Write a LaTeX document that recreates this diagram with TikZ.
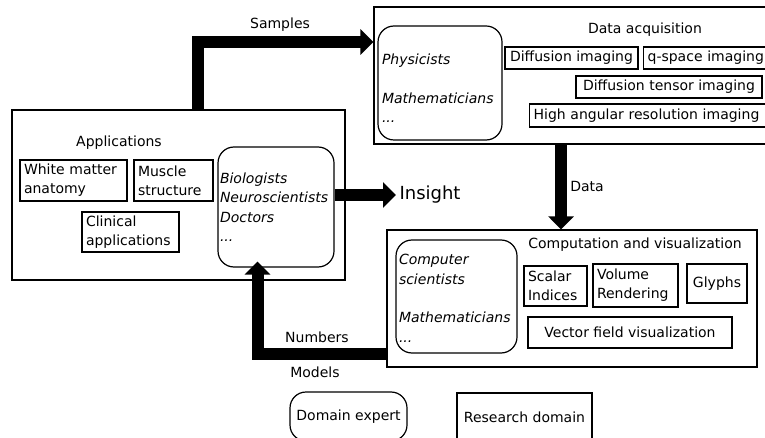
\documentclass[tikz,border=0pt]{standalone}
\usepackage{fontspec}
\setmainfont{DejaVu Sans}
\usetikzlibrary{arrows.meta}

\begin{document}
\begin{tikzpicture}[x=1pt,y=-1pt,
    every node/.style={font=\fontsize{14}{19}\selectfont},
    group/.style={draw,line width=1.3pt,inner sep=0pt},
    tagbox/.style={draw,line width=1.2pt,inner xsep=4pt,inner ysep=0pt,align=left},
    crowd/.style={draw,line width=1.2pt,rounded corners=16pt,inner sep=0pt,
      align=left,font=\fontsize{14}{19.5}\selectfont\itshape},
    flow/.style={line width=12pt,-{Triangle[length=13pt,width=25pt]}}]
    \useasboundingbox (0,0) rectangle (765,438);
    \clip (0,0) rectangle (765,438);
    % data acquisition
    \node[group,minimum width=416pt,minimum height=137pt] (acq) at (582,75.5) {};
    \node (acqtitle) at (645,30) {Data acquisition};
    \node[crowd,minimum width=124pt,minimum height=114pt,text width=116pt] (phys) at (440,83)
      {\rule{0pt}{22pt}Physicists\\[19pt]Mathematicians\\...};
    \node[tagbox,minimum width=133pt,minimum height=22pt] (dwi) at (571.5,58) {Diffusion imaging};
    \node[tagbox,anchor=west,text width=140pt,minimum height=22pt] (qspace) at (643,58) {q-space imaging};
    \node[tagbox,minimum width=186pt,minimum height=22pt] (dti) at (669,87) {Diffusion tensor imaging};
    \node[tagbox,anchor=west,text width=240pt,minimum height=23pt] (hardi) at (529,115.5)
      {High angular resolution imaging};
    % applications
    \node[group,minimum width=333pt,minimum height=170pt] (apps) at (178.5,195) {};
    \node (appstitle) at (119,143) {Applications};
    \node[tagbox,minimum width=107pt,minimum height=41pt,text width=99pt] (wm) at (73.5,180.5)
      {White matter\\anatomy};
    \node[tagbox,minimum width=79pt,minimum height=41pt,text width=71pt] (muscle) at (173.5,180.5)
      {Muscle\\structure};
    \node[tagbox,minimum width=97pt,minimum height=40pt,text width=89pt] (clinic) at (130.5,232)
      {Clinical\\applications};
    \node[crowd,minimum width=116pt,minimum height=120pt,text width=112pt] (bio) at (276,207)
      {Biologists\\Neuroscientists\\Doctors\\...};
    % computation
    \node[group,minimum width=370pt,minimum height=137pt] (comp) at (572,298.5) {};
    \node (comptitle) at (635,245) {Computation and visualization};
    \node[crowd,minimum width=121pt,minimum height=113pt,text width=115pt] (cs) at (456.5,296.5)
      {\rule{0pt}{14pt}Computer\\scientists\\[19pt]Mathematicians\\...};
    \node[tagbox,minimum width=63pt,minimum height=40pt,text width=55pt] (scalar) at (555.5,286)
      {Scalar\\Indices};
    \node[tagbox,minimum width=85pt,minimum height=43pt,text width=77pt] (volume) at (635.5,285.5)
      {Volume\\Rendering};
    \node[tagbox,minimum width=60pt,minimum height=39pt] (glyphs) at (717,283.5) {Glyphs};
    \node[tagbox,minimum width=204pt,minimum height=31pt] (vector) at (630,332.5)
      {Vector field visualization};
    % insight
    \node[anchor=west,font=\fontsize{18}{20}\selectfont] (insight) at (396,195) {Insight};
    % flows
    \coordinate (sbend) at (197.5,42);
    \draw[flow] (apps.north -| sbend) -- (sbend) -- (acq.west |- sbend);
    \node (samples) at (280,25) {Samples};
    \draw[flow] (acq.south -| 561,0) -- (comp.north -| 561,0);
    \node (data) at (587,186) {Data};
    \draw[flow] (insight.west -| bio.east) -- (insight.west);
    \coordinate (mbend) at (257.5,354);
    \draw[flow] (mbend -| comp.west) -- (mbend) -- ([yshift=6pt]bio.south -| mbend);
    \node (numbers) at (317,337) {Numbers};
    \node (models) at (315,372) {Models};
    % legend
    \node[crowd,font=\fontsize{14}{19}\selectfont,minimum width=117pt,minimum height=49pt,
      align=center] (expert) at (348.5,416.5) {Domain expert};
    \node[tagbox,minimum width=135pt,minimum height=48pt] (domain) at (524.5,417) {Research domain};
\end{tikzpicture}
\end{document}
